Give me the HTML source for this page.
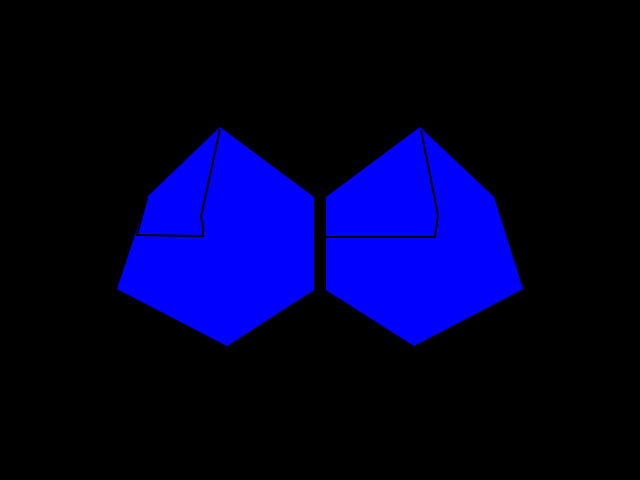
<!DOCTYPE html>
<html><head><meta charset="utf-8"><style>html,body{margin:0;padding:0;background:#000;width:640px;height:480px;overflow:hidden}</style></head>
<body>
<svg width="640" height="480" viewBox="0 0 640 480">
<rect x="0" y="0" width="640" height="480" fill="#000"/>
<polygon points="220,127 314,197 314,290 227,346 117,289 148,196" fill="#0000ff"/>
<polyline points="220,129 201,217 203,227 203,236 137,235 147,198" fill="none" stroke="#000" stroke-width="2"/>
<polygon points="420,127 326,197 326,290 414,346 523,289 494,197" fill="#0000ff"/>
<polyline points="421,130 438,215 435,237 326,237" fill="none" stroke="#000" stroke-width="2"/>
</svg>
</body></html>
